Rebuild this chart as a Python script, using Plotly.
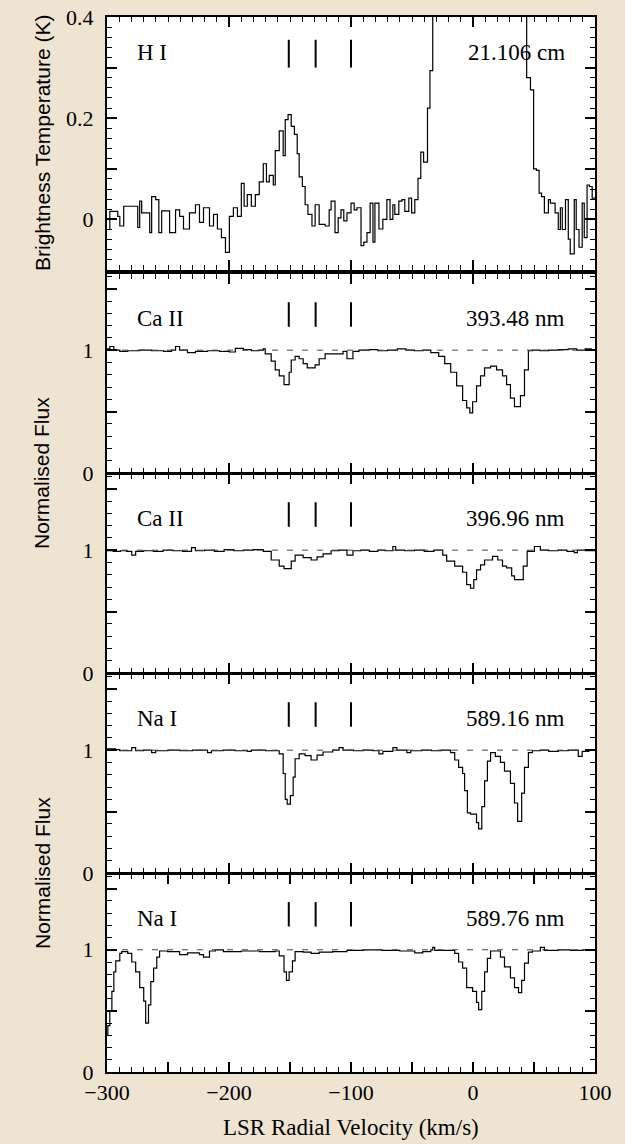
import plotly.graph_objects as go

# ---------------- data ----------------
HI_SPECTRUM = [  # (LSR velocity km/s [bin start], brightness temperature K)
    (-300.0, -0.02), (-297.7, 0.016), (-291.2, 0.006), (-289.5, -0.013), (-286.3, 0.026),
    (-274.8, -0.016), (-273.2, 0.036), (-271.6, 0.013), (-265.0, -0.026), (-263.4, 0.045),
    (-260.1, 0.039), (-257.5, -0.026), (-255.2, 0.017), (-248.7, -0.026), (-243.8, 0.019),
    (-240.5, 0.006), (-237.3, -0.019), (-232.4, 0.013), (-227.5, 0.029), (-224.2, -0.006),
    (-220.9, 0.023), (-216.0, -0.013), (-212.7, 0.01), (-209.5, -0.019), (-206.2, -0.036),
    (-202.9, -0.065), (-199.7, 0.006), (-196.4, 0.023), (-193.1, 0.006), (-189.9, 0.071),
    (-187.6, 0.026), (-185.0, 0.049), (-181.7, 0.026), (-178.4, 0.049), (-175.2, 0.074),
    (-171.9, 0.11), (-169.3, 0.074), (-167.0, 0.087), (-163.7, 0.068), (-162.1, 0.136),
    (-158.8, 0.175), (-155.6, 0.126), (-153.9, 0.197), (-151.6, 0.207), (-149.0, 0.184),
    (-146.4, 0.168), (-144.1, 0.13), (-142.5, 0.084), (-139.9, 0.065), (-137.6, 0.029),
    (-135.3, 0.01), (-132.0, -0.013), (-129.4, 0.029), (-126.1, -0.01), (-121.2, -0.013),
    (-117.9, 0.019), (-116.3, 0.036), (-113.1, -0.026), (-110.5, 0.003), (-108.2, 0.019),
    (-105.9, -0.003), (-103.3, 0.013), (-100.0, 0.032), (-97.4, 0.019), (-95.1, 0.023),
    (-91.8, -0.052), (-89.5, -0.045), (-86.9, -0.026), (-84.3, 0.032), (-82.0, -0.045),
    (-80.4, 0.032), (-77.1, -0.019), (-73.9, 0.0), (-70.6, 0.039), (-68.0, 0.0),
    (-65.7, 0.029), (-64.1, 0.01), (-60.8, 0.036), (-58.2, 0.039), (-55.9, 0.016),
    (-52.6, 0.042), (-50.3, 0.013), (-47.7, 0.039), (-45.1, 0.081), (-42.8, 0.133),
    (-40.5, 0.113), (-37.3, 0.22), (-35.3, 0.294), (-33.0, 0.6), (-28.0, 1.3),
    (-20.0, 2.6), (-10.0, 3.8), (0.0, 4.2), (10.0, 4.0), (20.0, 3.1), (30.0, 1.9),
    (38.0, 0.9), (44.0, 0.28), (47.1, 0.256), (49.7, 0.10), (52.0, 0.097), (54.2, 0.052),
    (56.2, 0.045), (58.5, 0.013), (61.8, 0.039), (63.4, 0.032), (67.3, 0.013),
    (69.9, -0.02), (71.6, 0.023), (73.2, -0.02), (75.8, 0.039), (78.1, -0.039),
    (79.7, -0.068), (83.0, 0.039), (84.6, -0.02), (86.9, -0.055), (89.5, 0.032),
    (91.2, -0.036), (93.5, 0.068), (95.4, 0.065), (97.7, 0.042), (100.0, 0.042),
]

CAII_K_SPECTRUM = [  # Ca II 393.48 nm, normalised flux
    (-300.0, 1.01), (-297.7, 1.03), (-294.4, 1.0), (-289.5, 0.99), (-283.0, 0.995),
    (-273.2, 1.0), (-263.4, 0.995), (-253.6, 0.99), (-247.1, 1.0), (-243.8, 1.03),
    (-240.5, 1.0), (-234.0, 0.98), (-227.5, 0.99), (-217.6, 0.995), (-207.8, 0.99),
    (-199.7, 0.985), (-194.8, 1.015), (-188.2, 1.005), (-181.7, 0.995), (-175.2, 1.0),
    (-171.9, 1.01), (-170.3, 0.97), (-165.4, 0.91), (-162.1, 0.84), (-158.8, 0.79),
    (-154.9, 0.72), (-150.7, 0.82), (-149.0, 0.92), (-145.8, 0.95), (-142.5, 0.93),
    (-139.2, 0.89), (-135.9, 0.855), (-129.4, 0.88), (-126.1, 0.93), (-121.2, 0.97),
    (-106.5, 0.99), (-103.3, 0.93), (-98.4, 0.99), (-93.5, 1.0), (-85.0, 1.005),
    (-78.0, 0.995), (-70.0, 1.0), (-62.0, 1.01), (-55.0, 1.0), (-48.0, 0.995),
    (-41.0, 1.0), (-34.6, 0.98), (-28.1, 0.95), (-23.2, 0.89), (-18.3, 0.82),
    (-13.4, 0.71), (-8.5, 0.59), (-5.2, 0.53), (-2.6, 0.49), (-0.3, 0.58), (2.9, 0.71),
    (6.2, 0.79), (9.5, 0.855), (14.4, 0.87), (19.3, 0.84), (24.2, 0.79), (27.5, 0.72),
    (30.7, 0.61), (34.0, 0.54), (38.9, 0.63), (42.2, 0.84), (45.4, 0.995), (48.7, 1.0),
    (55.0, 0.995), (62.0, 1.0), (70.0, 1.005), (78.0, 1.01), (85.0, 1.0), (92.0, 1.01),
    (97.0, 1.005), (100.0, 1.005),
]

CAII_H_SPECTRUM = [  # Ca II 396.96 nm
    (-300.0, 0.995), (-295.0, 0.99), (-289.0, 0.995), (-284.0, 0.99), (-279.7, 0.96),
    (-276.5, 0.99), (-270.0, 0.995), (-262.0, 0.99), (-254.0, 1.0), (-246.0, 0.995),
    (-238.0, 0.99), (-230.7, 1.02), (-227.5, 0.995), (-220.0, 1.0), (-212.0, 0.99),
    (-204.0, 1.005), (-196.0, 0.995), (-188.0, 1.0), (-180.0, 1.005), (-171.9, 0.99),
    (-165.4, 0.92), (-158.8, 0.87), (-154.9, 0.85), (-149.0, 0.91), (-145.8, 0.96),
    (-139.2, 0.94), (-132.7, 0.92), (-127.8, 0.945), (-122.9, 0.97), (-116.3, 0.995),
    (-110.0, 1.0), (-103.3, 0.96), (-98.4, 0.995), (-92.0, 1.0), (-85.0, 0.99),
    (-78.0, 1.0), (-72.0, 0.995), (-65.7, 1.03), (-63.4, 1.0), (-56.0, 0.995),
    (-48.0, 1.0), (-40.0, 0.99), (-32.0, 1.0), (-24.8, 0.96), (-21.6, 0.91),
    (-15.0, 0.87), (-8.5, 0.82), (-5.2, 0.72), (-2.0, 0.69), (0.65, 0.76), (2.9, 0.84),
    (6.2, 0.88), (9.5, 0.92), (16.0, 0.95), (20.3, 0.92), (24.2, 0.87), (27.5, 0.855),
    (31.7, 0.79), (34.0, 0.76), (41.2, 0.87), (44.4, 0.99), (50.3, 1.03), (55.2, 1.0),
    (62.0, 0.995), (70.0, 1.0), (77.0, 0.99), (83.0, 0.98), (85.6, 1.0), (92.0, 0.995),
    (100.0, 1.0),
]

NAI_D2_SPECTRUM = [  # Na I 589.16 nm
    (-300.0, 1.01), (-293.0, 1.005), (-289.5, 0.995), (-279.7, 1.02), (-276.5, 0.995),
    (-270.0, 1.0), (-263.4, 0.98), (-260.1, 0.995), (-250.0, 1.0), (-240.0, 0.995),
    (-230.0, 1.0), (-217.6, 0.98), (-214.4, 0.995), (-205.0, 1.0), (-195.0, 0.995),
    (-185.0, 0.99), (-181.7, 1.0), (-170.0, 0.995), (-158.8, 0.97), (-155.6, 0.81),
    (-153.9, 0.60), (-152.3, 0.56), (-149.7, 0.63), (-147.4, 0.78), (-145.8, 0.93),
    (-142.5, 0.97), (-137.6, 0.955), (-132.7, 0.92), (-127.8, 0.96), (-122.9, 0.985),
    (-115.0, 1.0), (-109.8, 1.02), (-106.5, 1.0), (-98.0, 0.995), (-90.0, 1.0),
    (-82.0, 0.995), (-77.1, 0.97), (-73.9, 0.99), (-65.7, 1.02), (-62.4, 1.0),
    (-54.2, 0.98), (-51.0, 0.995), (-42.0, 1.0), (-34.0, 0.995), (-26.0, 1.0),
    (-18.3, 0.98), (-15.0, 0.92), (-11.8, 0.86), (-8.5, 0.81), (-6.9, 0.67),
    (-4.6, 0.49), (-2.0, 0.48), (2.9, 0.41), (4.6, 0.36), (7.2, 0.54), (9.5, 0.75),
    (11.8, 0.91), (14.4, 0.98), (18.3, 0.95), (22.5, 0.90), (25.8, 0.83), (30.7, 0.73),
    (34.0, 0.57), (36.6, 0.42), (39.9, 0.65), (42.2, 0.86), (45.4, 0.98), (48.7, 0.995),
    (55.0, 1.0), (62.0, 0.99), (70.0, 0.995), (78.0, 1.0), (86.3, 0.95), (89.5, 0.99),
    (95.0, 1.0), (100.0, 1.0),
]

NAI_D1_SPECTRUM = [  # Na I 589.76 nm
    (-300.0, 0.31), (-299.3, 0.38), (-297.7, 0.50), (-296.0, 0.66), (-294.4, 0.82),
    (-292.8, 0.91), (-289.5, 0.97), (-287.9, 0.985), (-283.0, 0.97), (-279.7, 0.90),
    (-276.5, 0.82), (-273.2, 0.69), (-269.9, 0.58), (-268.3, 0.40), (-266.0, 0.55),
    (-264.1, 0.74), (-261.8, 0.85), (-259.2, 0.94), (-256.9, 0.99), (-250.3, 0.985),
    (-240.5, 0.96), (-234.0, 0.975), (-224.2, 0.96), (-220.9, 0.94), (-216.0, 0.99),
    (-211.1, 1.0), (-204.6, 0.985), (-190.0, 0.99), (-175.0, 0.985), (-162.1, 0.99),
    (-158.8, 0.95), (-154.9, 0.82), (-152.9, 0.75), (-150.7, 0.82), (-148.0, 0.91),
    (-145.8, 0.985), (-139.2, 0.98), (-132.7, 0.97), (-126.1, 0.98), (-115.0, 0.985),
    (-103.3, 0.995), (-90.0, 1.0), (-75.0, 0.995), (-60.0, 0.99), (-47.7, 0.975),
    (-41.2, 0.985), (-34.6, 1.0), (-33.0, 1.02), (-31.4, 0.995), (-15.0, 0.97),
    (-11.8, 0.90), (-8.5, 0.85), (-5.2, 0.69), (-0.3, 0.66), (2.9, 0.57), (4.6, 0.51),
    (7.2, 0.66), (9.5, 0.82), (11.8, 0.93), (14.4, 0.99), (22.5, 0.94), (25.8, 0.86),
    (30.7, 0.77), (34.0, 0.69), (37.3, 0.65), (39.9, 0.75), (42.2, 0.89), (45.4, 0.98),
    (48.7, 0.99), (55.2, 1.02), (58.5, 0.995), (70.0, 1.0), (80.0, 0.995), (90.0, 1.0),
    (100.0, 0.995),
]

SPECTRA = [HI_SPECTRUM, CAII_K_SPECTRUM, CAII_H_SPECTRUM, NAI_D2_SPECTRUM, NAI_D1_SPECTRUM]
SPECIES = ["H I", "Ca II", "Ca II", "Na I", "Na I"]
WAVELENGTHS = ["21.106 cm", "393.48 nm", "396.96 nm", "589.16 nm", "589.76 nm"]
COMPONENT_VELOCITIES = [-151, -129, -100]

X_TICKS = [-300, -250, -200, -150, -100, -50, 0, 50, 100]
X_TICKTEXT = ["\u2212300", "", "\u2212200", "", "\u2212100", "", "0", "", "100"]
HI_TICKS = [-0.1, 0.0, 0.1, 0.2, 0.3, 0.4]
HI_TICKTEXT = ["", "0", "", "0.2", "", "0.4"]
FLUX_TICKS = [0.0, 0.5, 1.0, 1.5]
FLUX_TICKTEXT = ["0", "", "1", ""]

# ---------------- layout geometry ----------------
W, H = 625, 1144
X0, X1 = 107, 595
PANELS_PX = [(17, 270), (274, 473), (474, 673), (674, 873), (874, 1072)]
HI_RANGE = [-0.1, 0.4]
FLUX_RANGE = [0.0, 1.62]
SERIF = "Liberation Serif, Times New Roman, serif"
SANS = "Liberation Sans, Arial, sans-serif"
BG = "#efe4d2"
TICK_FS = 22
LABEL_FS = 23

fig = go.Figure()
layout = dict(
    width=W, height=H, autosize=False,
    margin=dict(l=0, r=0, t=0, b=0, pad=0, autoexpand=False),
    paper_bgcolor=BG, plot_bgcolor="white", showlegend=False,
    font=dict(family=SERIF, size=TICK_FS, color="black"),
)
annotations = []

for i, spec in enumerate(SPECTRA):
    sfx = "" if i == 0 else str(i + 1)
    xa, ya = "x" + sfx, "y" + sfx
    top, bot = PANELS_PX[i]
    last = i == len(SPECTRA) - 1

    vel = [p[0] for p in spec]
    val = [p[1] for p in spec]
    fig.add_trace(go.Scatter(x=vel, y=val, mode="lines", line_shape="hv",
                             line=dict(color="black", width=1.2), xaxis=xa, yaxis=ya,
                             hoverinfo="skip"))

    if i == 0:
        mk_lo, mk_hi, lab_y = 0.30, 0.355, 0.33
    else:
        mk_lo, mk_hi, lab_y = 1.19, 1.39, 1.26
        fig.add_trace(go.Scatter(x=[-300, 100], y=[1, 1], mode="lines",
                                 line=dict(color="#444444", width=1, dash="6px,9px"),
                                 xaxis=xa, yaxis=ya, hoverinfo="skip"))
    mx, my = [], []
    for v in COMPONENT_VELOCITIES:
        mx += [v, v, None]
        my += [mk_lo, mk_hi, None]
    fig.add_trace(go.Scatter(x=mx, y=my, mode="lines", line=dict(color="black", width=2),
                             xaxis=xa, yaxis=ya, hoverinfo="skip"))

    annotations.append(dict(x=-277, y=lab_y, xref=xa, yref=ya, text=SPECIES[i],
                            showarrow=False, xanchor="left", yanchor="middle",
                            font=dict(family=SERIF, size=LABEL_FS)))
    annotations.append(dict(x=77, y=lab_y, xref=xa, yref=ya, text=WAVELENGTHS[i],
                            showarrow=False, xanchor="right", yanchor="middle",
                            font=dict(family=SERIF, size=LABEL_FS)))

    layout["xaxis" + sfx] = dict(
        domain=[X0 / W, X1 / W], range=[-300, 100], anchor=ya, automargin=False,
        showline=True, linewidth=2, linecolor="black", mirror="ticks",
        ticks="inside", ticklen=10, tickwidth=1.6, tickcolor="black",
        tickmode="array", tickvals=X_TICKS, ticktext=X_TICKTEXT,
        showticklabels=last, tickfont=dict(family=SERIF, size=TICK_FS),
        showgrid=False, zeroline=False,
        minor=dict(ticks="inside", ticklen=5, tickwidth=1.3, tickcolor="black",
                   dtick=10, tick0=0, showgrid=False),
    )
    if i == 0:
        yt, ytt, yr, ydt = HI_TICKS, HI_TICKTEXT, HI_RANGE, 0.02
    else:
        yt, ytt, yr, ydt = FLUX_TICKS, FLUX_TICKTEXT, FLUX_RANGE, 0.1
    layout["yaxis" + sfx] = dict(
        domain=[1 - bot / H, 1 - top / H], range=yr, anchor=xa, automargin=False,
        showline=True, linewidth=2, linecolor="black", mirror="ticks",
        ticks="inside", ticklen=10, tickwidth=1.6, tickcolor="black",
        tickmode="array", tickvals=yt, ticktext=ytt,
        tickfont=dict(family=SERIF, size=TICK_FS), ticklabelstandoff=7,
        showgrid=False, zeroline=False,
        minor=dict(ticks="inside", ticklen=5, tickwidth=1.3, tickcolor="black",
                   dtick=ydt, tick0=0, showgrid=False),
    )

# axis titles
annotations.append(dict(x=42 / W, y=1 - 143 / H, xref="paper", yref="paper",
                        xanchor="center", yanchor="middle",
                        text="Brightness Temperature (K)", textangle=-90, showarrow=False,
                        font=dict(family=SANS, size=21)))
for cy in (473, 873):
    annotations.append(dict(x=42 / W, y=1 - cy / H, xref="paper", yref="paper",
                            xanchor="center", yanchor="middle",
                            text="Normalised Flux", textangle=-90, showarrow=False,
                            font=dict(family=SANS, size=21)))
annotations.append(dict(x=(X0 + X1) / 2 / W, y=1 - 1127 / H, xref="paper", yref="paper",
                        xanchor="center", yanchor="middle",
                        text="LSR Radial Velocity (km/s)", showarrow=False,
                        font=dict(family=SERIF, size=LABEL_FS)))

layout["annotations"] = annotations
fig.update_layout(**layout)
fig.write_html("out.html", config={"responsive": False, "displayModeBar": False},
               post_script="document.body.style.margin='0px';document.body.style.overflow='hidden';")
